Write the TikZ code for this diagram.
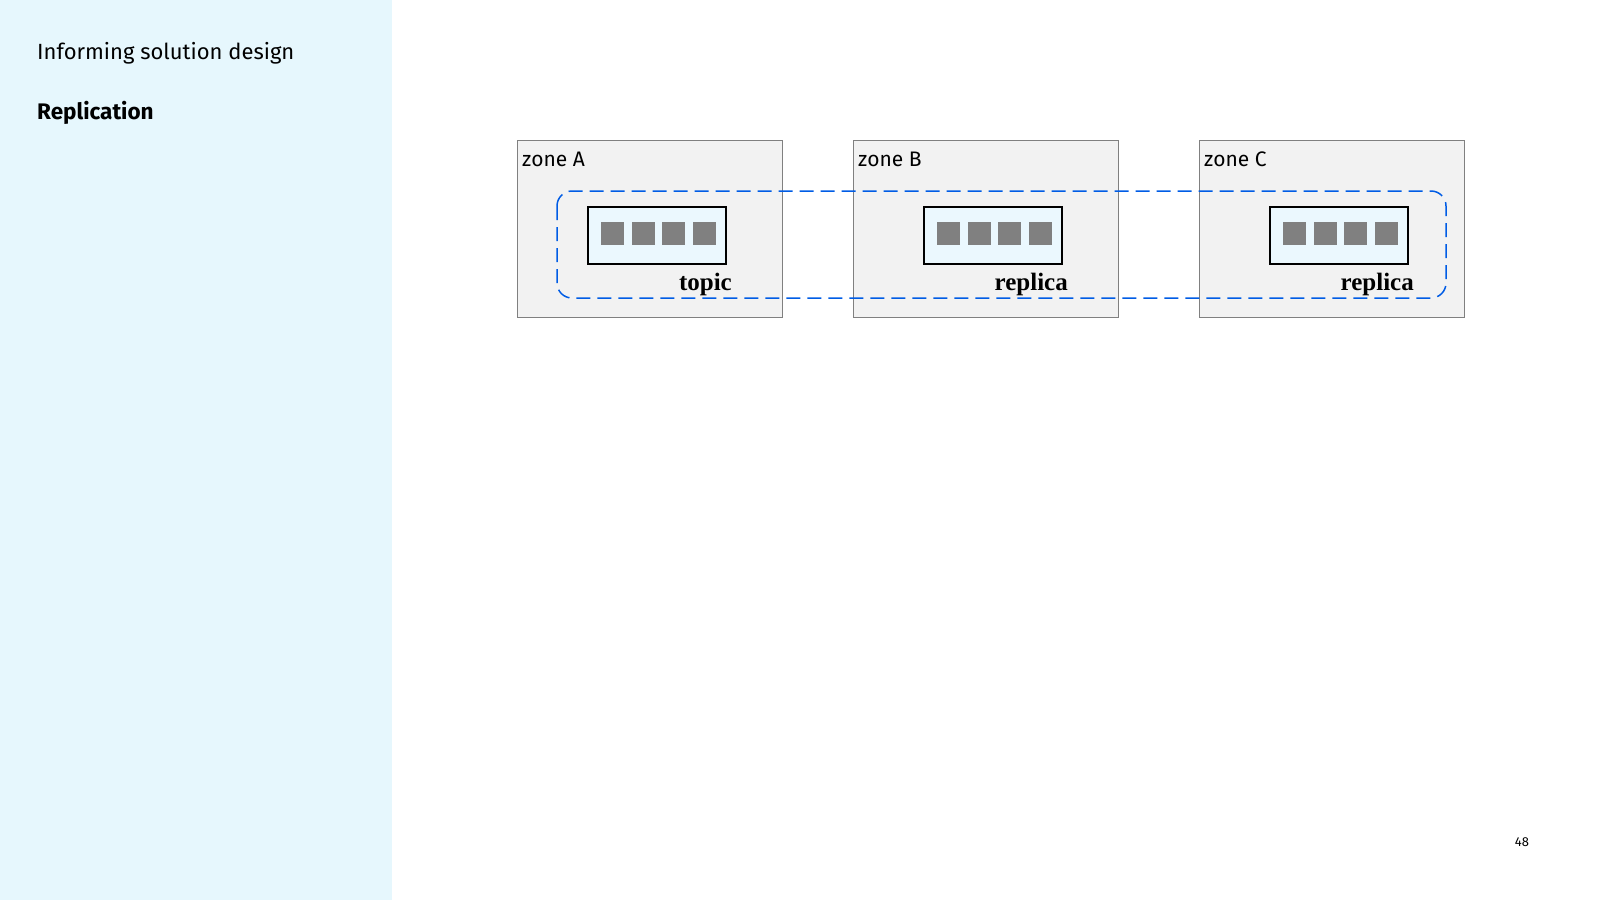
\documentclass[tikz,border=0pt]{standalone}
\usepackage{fontspec}
\setmainfont{Fira Sans}
\newfontfamily\serifb{Liberation Serif}
\begin{document}
\begin{tikzpicture}[x=1pt,y=-1pt,
  zone/.style={draw=black!50,fill=black!5,line width=0.8pt},
  topicbox/.style={draw=black,fill=cyan!8,line width=1.3pt},
  sq/.style={fill=black!50},
  lab/.style={font=\serifb\bfseries\fontsize{25}{28}\selectfont,anchor=base east,inner sep=0pt},
  zl/.style={font=\fontsize{21}{24}\selectfont\addfontfeature{},anchor=base west,inner sep=0pt}]
\useasboundingbox (0,0) rectangle (1600,900);
\fill[cyan!10] (0,0) rectangle (392,900);
\node[anchor=base west,inner sep=0pt,font=\fontsize{22}{26}\selectfont] (t1) at (37,59) {Informing solution design};
\node[anchor=base west,inner sep=0pt,font=\bfseries\fontsize{22.5}{26}\selectfont] (t2) at (37,119) {Replication};
\node[anchor=base,inner sep=0pt,font=\fontsize{13}{15}\selectfont] (pg) at (1522,846) {48};
\foreach \n/\x/\l/\t in {A/517/A/topic,B/853/B/replica,C/1199/C/replica}{
  \draw[zone] (\x,140) rectangle +(265,177);
  \node[zl] (zl\n) at (\x+5,166) {zone \l};
}
\draw[blue!60!cyan!90!black,line width=1.5pt,dash pattern=on 14pt off 7pt,rounded corners=15pt] (557,191) rectangle (1446,298);
\foreach \n/\x/\t in {A/588/topic,B/924/replica,C/1270/replica}{
  \draw[topicbox] (\x,207) rectangle +(138,57);
  \foreach \i in {0,1,2,3}{ \fill[sq] (\x+13+\i*30.5,222) rectangle +(23,23); }
  \node[lab] (l\n) at (\x+144,290) {\t};
}
\end{tikzpicture}
\end{document}
